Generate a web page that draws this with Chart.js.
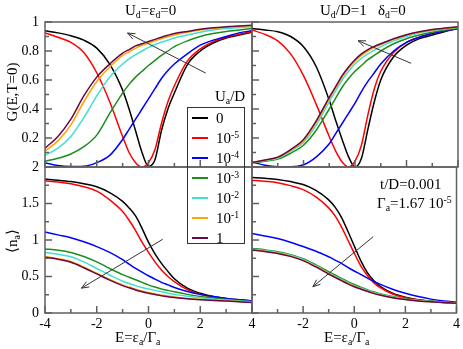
<!DOCTYPE html>
<html>
<head>
<meta charset="utf-8">
<script src="https://cdn.jsdelivr.net/npm/chart.js@4.4.1/dist/chart.umd.min.js"></script>
<style>
  html, body { margin:0; padding:0; background:#fff; }
  #wrap { position:relative; width:463px; height:349px; overflow:hidden; background:#fff;
          font-family:"Liberation Serif","Times New Roman",serif; color:#000; }
  #wrap canvas { position:absolute; left:0; top:0; }
  .t { position:absolute; white-space:nowrap; line-height:1; font-size:15px; }
  .t sub, .t sup { line-height:0; font-size:65%; }
  .t sub { vertical-align:-0.35em; }
  .t sup { vertical-align:0.55em; }
  .rot { transform:translate(-50%,-50%) rotate(-90deg); }
  #legend { position:absolute; left:187px; top:107px; width:58px; height:137px; border:1.5px solid #333; box-sizing:border-box; }
</style>
</head>
<body>
<div id="wrap">
  <canvas id="cTL" width="463" height="349"></canvas>
  <canvas id="cTR" width="463" height="349"></canvas>
  <canvas id="cBL" width="463" height="349"></canvas>
  <canvas id="cBR" width="463" height="349"></canvas>
  <div class="t" style="left:125px;top:3px;">U<sub>d</sub>=ε<sub>d</sub>=0</div>
  <div class="t" style="left:320px;top:3px;">U<sub>d</sub>/D=1&nbsp;&nbsp;&nbsp;δ<sub>d</sub>=0</div>
  <div class="t rot" style="left:12px;top:92px;">G(E,T=0)</div>
  <div class="t rot" style="left:12px;top:241px;">⟨n<sub>a</sub>⟩</div>
  <div class="t" style="left:115px;top:330px;">E=ε<sub>a</sub>/Γ<sub>a</sub></div>
  <div class="t" style="left:324px;top:330px;">E=ε<sub>a</sub>/Γ<sub>a</sub></div>
  <div class="t" style="left:380px;top:177px;">t/D=0.001</div>
  <div class="t" style="left:377px;top:196px;">Γ<sub>a</sub>=1.67 10<sup>-5</sup></div>
  <div class="t" style="left:215px;top:89px;">U<sub>a</sub>/D</div>
  <div id="legend"></div>
</div>
<script>
// ---------------- data ----------------
const E = [-4,-3.5,-3,-2.5,-2,-1.5,-1,-0.75,-0.5,-0.25,0,0.25,0.5,0.75,1,1.5,2,2.5,3,3.5,4];
const uaLabels = ['0','10^-5','10^-4','10^-3','10^-2','10^-1','1'];
const seriesColors = ['#000000','#ff0000','#0000ff','#1e8c1e','#40e0d0','#ffa500','#670748'];

// G(E,T=0), U_d = eps_d = 0  (top left)
const gL_0   = [0.94,0.925,0.905,0.875,0.82,0.71,0.53,0.40,0.25,0.10,0.005,0.05,0.25,0.40,0.51,0.705,0.80,0.855,0.89,0.91,0.93];
const gL_m5  = [0.925,0.895,0.86,0.79,0.65,0.45,0.21,0.10,0.03,0.0,0.03,0.12,0.30,0.45,0.56,0.73,0.815,0.865,0.895,0.915,0.935];
const gL_m4  = [0.03,0.01,0.003,0.005,0.03,0.08,0.19,0.26,0.33,0.40,0.47,0.54,0.61,0.665,0.71,0.78,0.84,0.875,0.90,0.925,0.94];
const gL_m3  = [0.04,0.06,0.09,0.14,0.22,0.37,0.51,0.57,0.62,0.66,0.70,0.735,0.77,0.80,0.83,0.87,0.90,0.92,0.935,0.945,0.955];
const gL_m2  = [0.08,0.13,0.21,0.34,0.49,0.62,0.71,0.745,0.775,0.80,0.825,0.845,0.86,0.875,0.89,0.91,0.93,0.945,0.955,0.962,0.968];
const gL_m1  = [0.11,0.18,0.29,0.45,0.59,0.69,0.77,0.795,0.82,0.84,0.855,0.87,0.885,0.898,0.91,0.93,0.945,0.955,0.963,0.97,0.975];
const gL_1   = [0.13,0.21,0.33,0.49,0.62,0.71,0.785,0.81,0.835,0.85,0.865,0.88,0.895,0.908,0.92,0.935,0.95,0.96,0.967,0.973,0.978];

// G(E,T=0), U_d/D = 1, delta_d = 0  (top right)
const gR_0   = [0.955,0.945,0.933,0.90,0.83,0.69,0.46,0.32,0.19,0.07,0.0,0.06,0.26,0.45,0.60,0.76,0.84,0.885,0.91,0.935,0.955];
const gR_m5  = [0.945,0.915,0.87,0.78,0.63,0.43,0.21,0.11,0.035,0.0,0.04,0.15,0.36,0.54,0.66,0.79,0.86,0.895,0.92,0.94,0.958];
const gR_m4  = [0.035,0.012,0.002,0.002,0.015,0.07,0.16,0.23,0.30,0.37,0.44,0.52,0.59,0.65,0.71,0.80,0.86,0.895,0.92,0.94,0.955];
const gR_m3  = [0.03,0.04,0.055,0.095,0.15,0.255,0.40,0.475,0.55,0.61,0.66,0.70,0.74,0.77,0.80,0.85,0.885,0.91,0.93,0.945,0.958];
const gR_m2  = [0.03,0.045,0.06,0.11,0.17,0.29,0.45,0.525,0.60,0.66,0.71,0.75,0.78,0.805,0.83,0.87,0.90,0.925,0.94,0.952,0.962];
const gR_m1  = [0.03,0.047,0.065,0.115,0.18,0.31,0.47,0.545,0.62,0.68,0.73,0.77,0.80,0.825,0.845,0.88,0.91,0.93,0.945,0.956,0.965];
const gR_1   = [0.03,0.048,0.068,0.12,0.19,0.32,0.48,0.555,0.63,0.69,0.74,0.78,0.81,0.832,0.85,0.885,0.912,0.932,0.948,0.958,0.967];

// <n_a>, U_d = eps_d = 0  (bottom left)
const nL_0   = [1.835,1.82,1.80,1.77,1.73,1.65,1.53,1.44,1.33,1.16,0.97,0.81,0.68,0.57,0.47,0.34,0.27,0.225,0.20,0.18,0.165];
const nL_m5  = [1.81,1.795,1.77,1.73,1.67,1.55,1.39,1.27,1.13,0.97,0.83,0.70,0.59,0.50,0.43,0.32,0.255,0.215,0.19,0.175,0.16];
const nL_m4  = [1.11,1.07,1.03,0.975,0.91,0.83,0.73,0.67,0.61,0.56,0.51,0.465,0.42,0.385,0.35,0.295,0.255,0.225,0.20,0.18,0.165];
const nL_m3  = [0.877,0.86,0.83,0.775,0.70,0.61,0.525,0.49,0.455,0.42,0.385,0.355,0.33,0.31,0.29,0.255,0.225,0.205,0.185,0.17,0.155];
const nL_m2  = [0.83,0.805,0.77,0.70,0.61,0.52,0.435,0.405,0.375,0.35,0.33,0.31,0.29,0.272,0.255,0.23,0.21,0.19,0.178,0.166,0.155];
const nL_m1  = [0.775,0.745,0.705,0.63,0.545,0.46,0.385,0.355,0.325,0.30,0.28,0.262,0.245,0.232,0.22,0.20,0.187,0.177,0.168,0.158,0.148];
const nL_1   = [0.765,0.735,0.695,0.62,0.535,0.45,0.375,0.345,0.315,0.29,0.27,0.253,0.237,0.224,0.213,0.195,0.182,0.172,0.163,0.153,0.143];

// <n_a>, U_d/D = 1  (bottom right)
const nR_0   = [1.855,1.845,1.83,1.80,1.76,1.68,1.55,1.45,1.31,1.12,0.92,0.72,0.56,0.45,0.37,0.27,0.215,0.18,0.16,0.145,0.135];
const nR_m5  = [1.82,1.805,1.785,1.745,1.69,1.59,1.44,1.33,1.18,1.0,0.82,0.65,0.52,0.42,0.35,0.26,0.21,0.178,0.158,0.143,0.133];
const nR_m4  = [1.09,1.055,1.02,0.97,0.91,0.845,0.77,0.725,0.68,0.625,0.575,0.53,0.48,0.435,0.395,0.325,0.27,0.225,0.19,0.165,0.15];
const nR_m3  = [0.885,0.865,0.84,0.80,0.745,0.66,0.565,0.52,0.475,0.43,0.39,0.355,0.32,0.29,0.265,0.225,0.195,0.175,0.16,0.15,0.14];
const nR_m2  = [0.875,0.855,0.83,0.79,0.733,0.647,0.55,0.505,0.46,0.415,0.375,0.342,0.31,0.28,0.256,0.218,0.19,0.171,0.157,0.147,0.138];
const nR_m1  = [0.868,0.848,0.822,0.782,0.725,0.638,0.54,0.495,0.45,0.405,0.367,0.334,0.303,0.274,0.25,0.213,0.186,0.168,0.155,0.145,0.136];
const nR_1   = [0.862,0.842,0.816,0.776,0.718,0.631,0.533,0.488,0.443,0.398,0.36,0.328,0.297,0.269,0.246,0.21,0.184,0.166,0.153,0.143,0.134];

const yTicksG = [0, 0.2, 0.4, 0.6, 0.8, 1];
const yTicksN = [0, 0.5, 1, 1.5, 2];
const xTicks  = [-4, -2, 0, 2, 4];

// arrow annotations (data coordinates: from -> to)
const arrowTL = [2.21, 0.648, -0.81, 0.924];
const arrowTR = [2.18, 0.715, 0.12, 0.871];
const arrowBL = [0.55, 1.01, -2.59, 0.34];
const arrowBR = [0.74, 1.045, -1.62, 0.36];

// ---------------- drawing ----------------
const FONT = '"Liberation Serif","Times New Roman",serif';
const FRAME = '#606060';

const deco = {
  id: 'deco',
  afterDatasetsDraw(chart, args, o) {
    const ctx = chart.ctx, a = chart.chartArea, xs = chart.scales.x, ys = chart.scales.y;
    ctx.save();
    ctx.strokeStyle = FRAME;
    ctx.lineWidth = 1.5;
    ctx.beginPath();
    const nY = Math.round((ys.max - ys.min) / o.yMinor);
    for (let i = 0; i <= nY; i++) {
      const v = ys.min + i * o.yMinor;
      const r = v / o.yMajor;
      const len = Math.abs(r - Math.round(r)) < 1e-6 ? 7 : 4;
      const py = ys.getPixelForValue(v);
      ctx.moveTo(a.left, py); ctx.lineTo(a.left + len, py);
    }
    const nX = Math.round((xs.max - xs.min) / o.xMinor);
    for (let i = 0; i <= nX; i++) {
      const v = xs.min + i * o.xMinor;
      const r = v / o.xMajor;
      const len = Math.abs(r - Math.round(r)) < 1e-6 ? 7 : 4;
      const px = xs.getPixelForValue(v);
      ctx.moveTo(px, a.bottom); ctx.lineTo(px, a.bottom - len);
    }
    ctx.stroke();
    ctx.strokeRect(a.left, a.top, a.right - a.left, a.bottom - a.top);
    // arrow
    if (o.arrow) {
      const [x0, y0, x1, y1] = o.arrow;
      const p0 = [xs.getPixelForValue(x0), ys.getPixelForValue(y0)];
      const p1 = [xs.getPixelForValue(x1), ys.getPixelForValue(y1)];
      const ang = Math.atan2(p1[1] - p0[1], p1[0] - p0[0]);
      const hl = 8, ha = 0.38;
      ctx.strokeStyle = '#333';
      ctx.lineWidth = 1;
      ctx.beginPath();
      ctx.moveTo(p0[0], p0[1]); ctx.lineTo(p1[0], p1[1]);
      ctx.moveTo(p1[0] - hl * Math.cos(ang - ha), p1[1] - hl * Math.sin(ang - ha));
      ctx.lineTo(p1[0], p1[1]);
      ctx.lineTo(p1[0] - hl * Math.cos(ang + ha), p1[1] - hl * Math.sin(ang + ha));
      ctx.stroke();
    }
    ctx.restore();
  }
};

function fmt(v) { return String(Math.round(v * 100) / 100); }

function makePanel(id, series, cfg) {
  const datasets = series.map((vals, i) => ({
    label: uaLabels[i],
    data: E.map((e, k) => ({ x: e, y: vals[k] })),
    borderColor: seriesColors[i],
    backgroundColor: seriesColors[i],
    borderWidth: 1.5,
    pointRadius: 0,
    fill: false,
    cubicInterpolationMode: 'monotone'
  })).reverse();
  return new Chart(document.getElementById(id), {
    type: 'line',
    data: { datasets },
    options: {
      responsive: false, animation: false, devicePixelRatio: 1, events: [],
      layout: { padding: cfg.padding },
      plugins: { legend: { display: false }, tooltip: { enabled: false }, deco: cfg.deco },
      scales: {
        x: {
          type: 'linear', min: -4, max: 4,
          afterBuildTicks: s => { s.ticks = xTicks.map(v => ({ value: v })); },
          ticks: { display: cfg.xLabels, autoSkip: false, maxRotation: 0, padding: 3,
                   color: '#000', font: { family: FONT, size: 14 },
                   callback: v => (cfg.hideX.includes(v) ? '' : fmt(v)) },
          grid: { display: false, drawTicks: false }, border: { display: false },
          afterFit: s => { s.height = cfg.xLabels ? 20 : 0; }
        },
        y: {
          type: 'linear', min: cfg.yMin, max: cfg.yMax,
          afterBuildTicks: s => { s.ticks = cfg.yTicks.map(v => ({ value: v })); },
          ticks: { display: cfg.yLabels, autoSkip: false, padding: 6,
                   color: '#000', font: { family: FONT, size: 14 },
                   callback: v => (cfg.hideY.includes(v) ? '' : fmt(v)) },
          grid: { display: false, drawTicks: false }, border: { display: false },
          afterFit: s => { s.width = cfg.yLabels ? 45 : 0; }
        }
      }
    },
    plugins: [deco]
  });
}

makePanel('cTL', [gL_0, gL_m5, gL_m4, gL_m3, gL_m2, gL_m1, gL_1], {
  padding: { left: 0, right: 211, top: 22, bottom: 182 },
  xLabels: false, yLabels: true, yMin: 0, yMax: 1, yTicks: yTicksG, hideX: [], hideY: [0],
  deco: { yMinor: 0.1, yMajor: 0.2, xMinor: 1, xMajor: 2, arrow: arrowTL }
});
makePanel('cTR', [gR_0, gR_m5, gR_m4, gR_m3, gR_m2, gR_m1, gR_1], {
  padding: { left: 252, right: 5, top: 22, bottom: 182 },
  xLabels: false, yLabels: false, yMin: 0, yMax: 1, yTicks: yTicksG, hideX: [], hideY: [],
  deco: { yMinor: 0.1, yMajor: 0.2, xMinor: 1, xMajor: 2, arrow: arrowTR }
});
makePanel('cBL', [nL_0, nL_m5, nL_m4, nL_m3, nL_m2, nL_m1, nL_1], {
  padding: { left: 0, right: 211, top: 167, bottom: 16 },
  xLabels: true, yLabels: true, yMin: 0, yMax: 2, yTicks: yTicksN, hideX: [], hideY: [],
  deco: { yMinor: 0.25, yMajor: 0.5, xMinor: 1, xMajor: 2, arrow: arrowBL }
});
makePanel('cBR', [nR_0, nR_m5, nR_m4, nR_m3, nR_m2, nR_m1, nR_1], {
  padding: { left: 252, right: 5, top: 167, bottom: 16 },
  xLabels: true, yLabels: false, yMin: 0, yMax: 2, yTicks: yTicksN, hideX: [-4], hideY: [],
  deco: { yMinor: 0.25, yMajor: 0.5, xMinor: 1, xMajor: 2, arrow: arrowBR }
});

// legend (built from the series labels and colours)
const lg = document.getElementById('legend');
uaLabels.forEach((lab, i) => {
  const rowY = 10 + i * 20; // relative to legend box
  const line = document.createElement('div');
  line.style.cssText = `position:absolute;left:4px;top:${rowY - 1}px;width:16px;height:2px;background:${seriesColors[i]};`;
  lg.appendChild(line);
  const txt = document.createElement('div');
  txt.className = 't';
  txt.style.left = '28px';
  txt.style.top = (rowY - 7) + 'px';
  const parts = lab.split('^');
  txt.innerHTML = parts.length > 1 ? `${parts[0]}<sup>${parts[1]}</sup>` : parts[0];
  lg.appendChild(txt);
});
</script>
</body>
</html>
